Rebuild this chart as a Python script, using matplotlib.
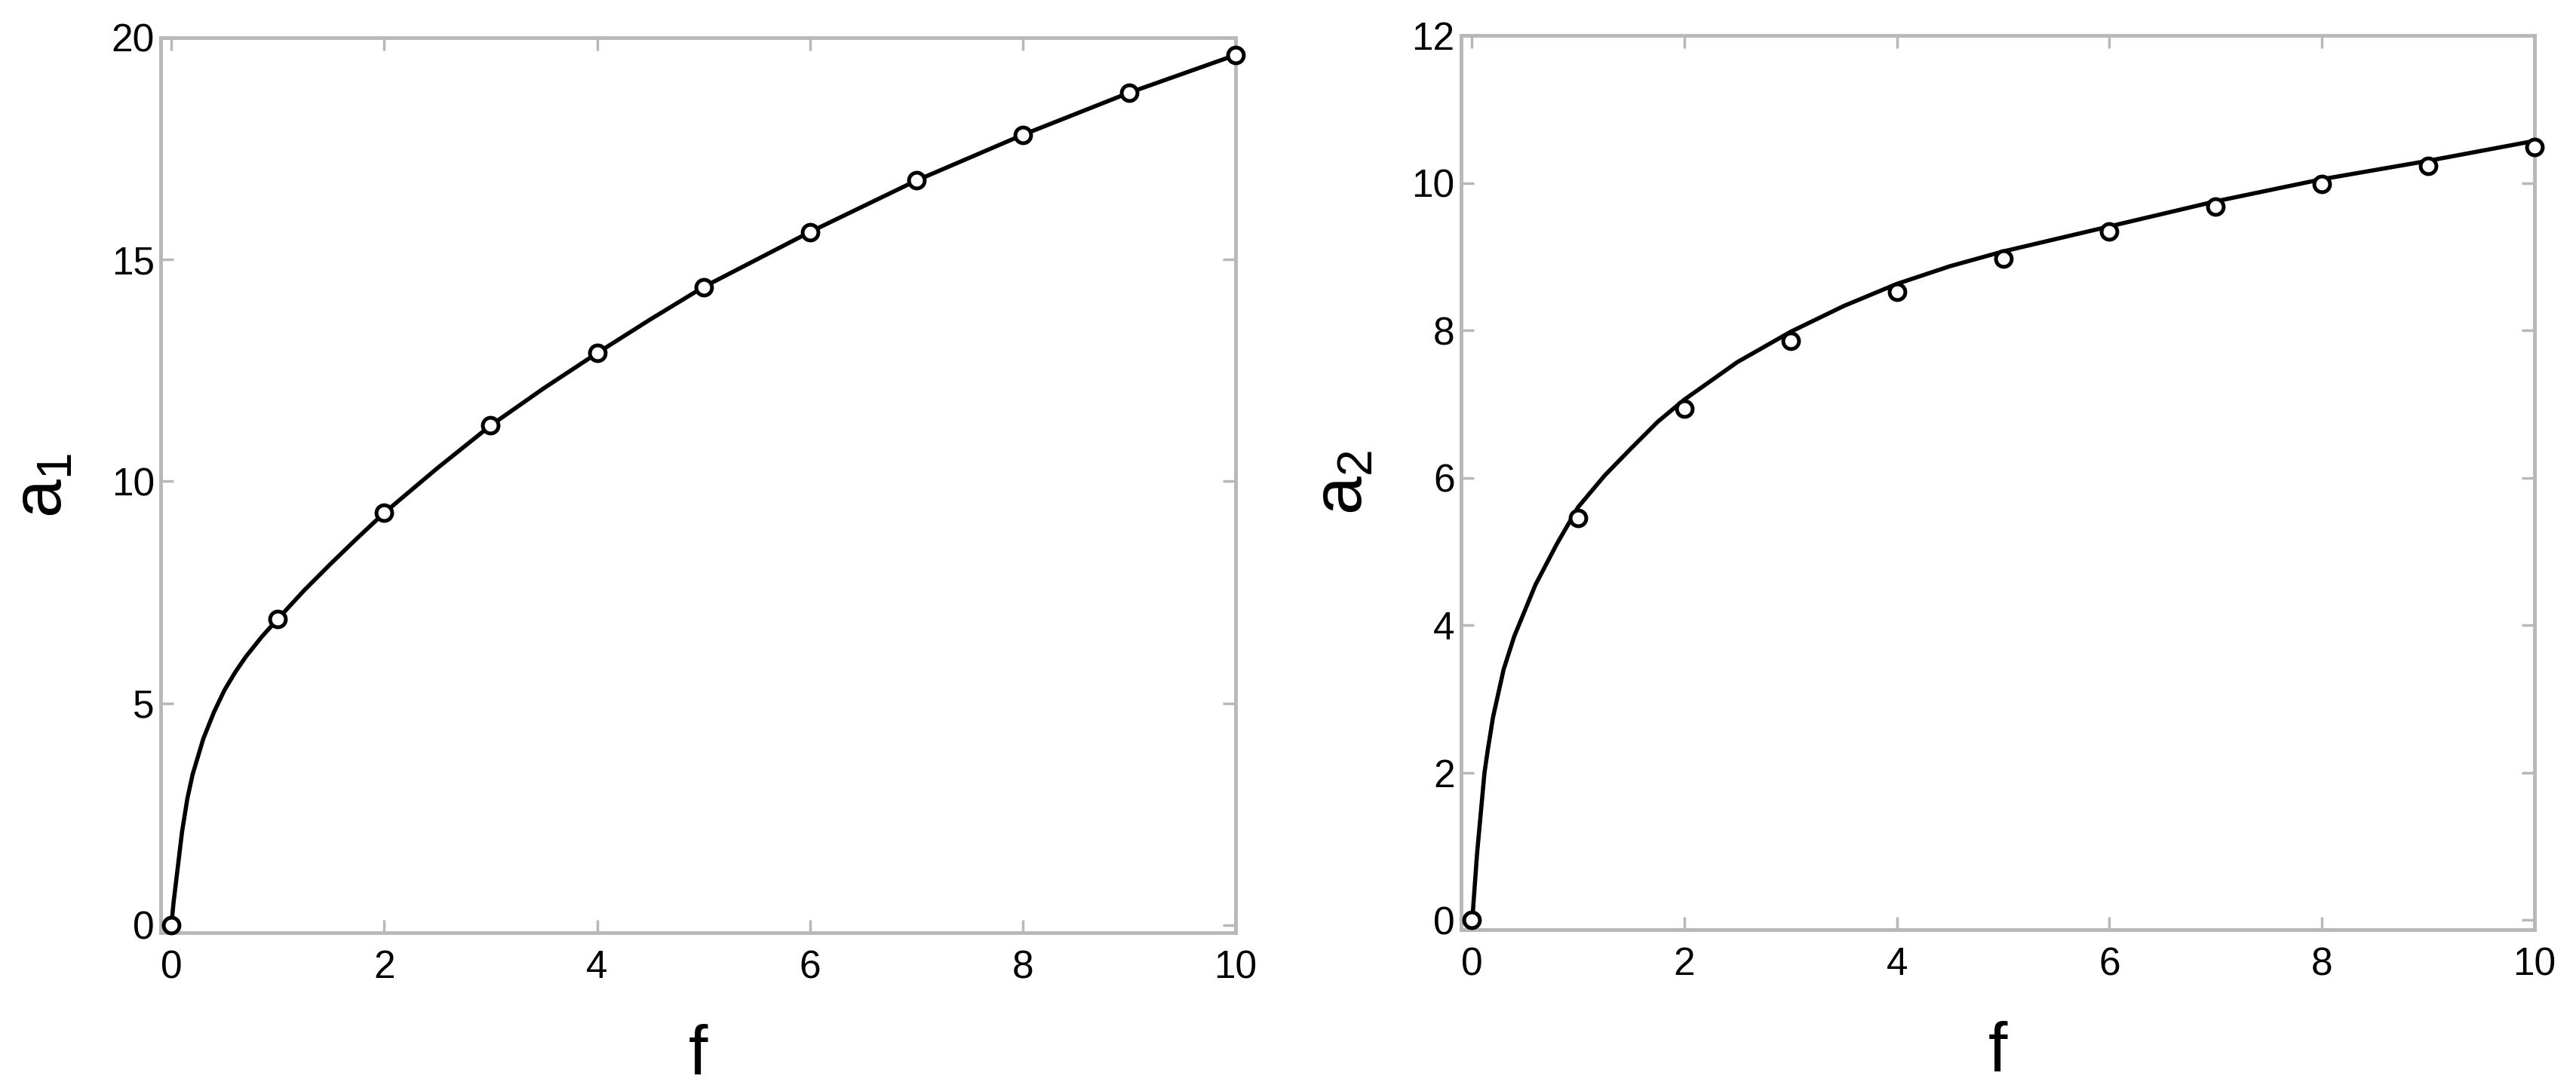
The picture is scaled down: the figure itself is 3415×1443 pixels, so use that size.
import matplotlib
matplotlib.use("Agg")
import matplotlib.pyplot as plt

plt.rcParams.update({"mathtext.fontset": "custom", "mathtext.rm": "Liberation Sans",
                     "mathtext.it": "Liberation Sans"})

FONT = ["Liberation Sans", "DejaVu Sans"]
SPINE = "#b8b8b8"

# sampled points (f)
f_pts = [0, 1, 2, 3, 4, 5, 6, 7, 8, 9, 10]
a1_pts = [0, 6.9, 9.29, 11.26, 12.89, 14.38, 15.62, 16.78, 17.81, 18.76, 19.61]
a2_pts = [0, 5.45, 6.94, 7.86, 8.52, 8.97, 9.34, 9.68, 9.99, 10.23, 10.49]

# continuous curves
f1_curve = [0, 0.02, 0.05, 0.1, 0.15, 0.2, 0.3, 0.4, 0.5, 0.6, 0.7, 0.85, 1, 1.25, 1.5,
            1.75, 2, 2.5, 3, 3.5, 4, 4.5, 5, 6, 7, 8, 9, 10]
a1_curve = [0, 0.5, 1.1, 2.1, 2.85, 3.4, 4.2, 4.8, 5.3, 5.7, 6.05, 6.5, 6.9, 7.55, 8.15,
            8.73, 9.29, 10.3, 11.26, 12.1, 12.89, 13.65, 14.38, 15.62, 16.78, 17.81,
            18.76, 19.61]
f2_curve = [0, 0.01, 0.05, 0.12, 0.15, 0.2, 0.3, 0.4, 0.6, 0.8, 1, 1.25, 1.5, 1.75, 2,
            2.5, 3, 3.5, 4, 4.5, 5, 6, 7, 8, 9, 10]
a2_curve = [0, 0.1, 0.9, 2.0, 2.3, 2.75, 3.4, 3.85, 4.55, 5.1, 5.6, 6.03, 6.4, 6.76, 7.06,
            7.57, 7.98, 8.33, 8.63, 8.87, 9.07, 9.41, 9.75, 10.05, 10.30, 10.57]

fig = plt.figure(figsize=(34.15, 14.43), dpi=100)
ax1 = fig.add_axes([0.0624, 0.1428, 0.4173, 0.8226])
ax2 = fig.add_axes([0.5672, 0.1455, 0.4167, 0.8219])

panels = [(ax1, f1_curve, a1_curve, a1_pts, (-0.17, 20), [0, 5, 10, 15, 20], r"$\mathrm{a}_1$"),
          (ax2, f2_curve, a2_curve, a2_pts, (-0.13, 12), [0, 2, 4, 6, 8, 10, 12], r"$\mathrm{a}_2$")]
for ax, fc, ac, ap, ylim, yt, ylab in panels:
    ax.plot(fc, ac, "-", color="black", lw=4, clip_on=False, zorder=3)
    ax.plot(f_pts, ap, "o", color="black", mfc="white", ms=15, mew=3.6, clip_on=False, zorder=4)
    ax.set_xlim(-0.1, 10); ax.set_ylim(*ylim)
    ax.set_xticks([0, 2, 4, 6, 8, 10]); ax.set_yticks(yt)
    for s in ax.spines.values():
        s.set_color(SPINE); s.set_linewidth(3.5)
    ax.tick_params(direction="in", length=12, width=2.5, color=SPINE, top=True, right=True,
                   labelsize=37)
    ax.tick_params(axis="x", pad=16)
    ax.tick_params(axis="y", pad=6)
    for lab in ax.get_xticklabels() + ax.get_yticklabels():
        lab.set_family(FONT)
    ax.set_xlabel("f", fontsize=66, family=FONT, labelpad=36)
    ax.set_ylabel(ylab, fontsize=66, family=FONT, labelpad=34)

fig.savefig("out.png", dpi=100, facecolor="white")
